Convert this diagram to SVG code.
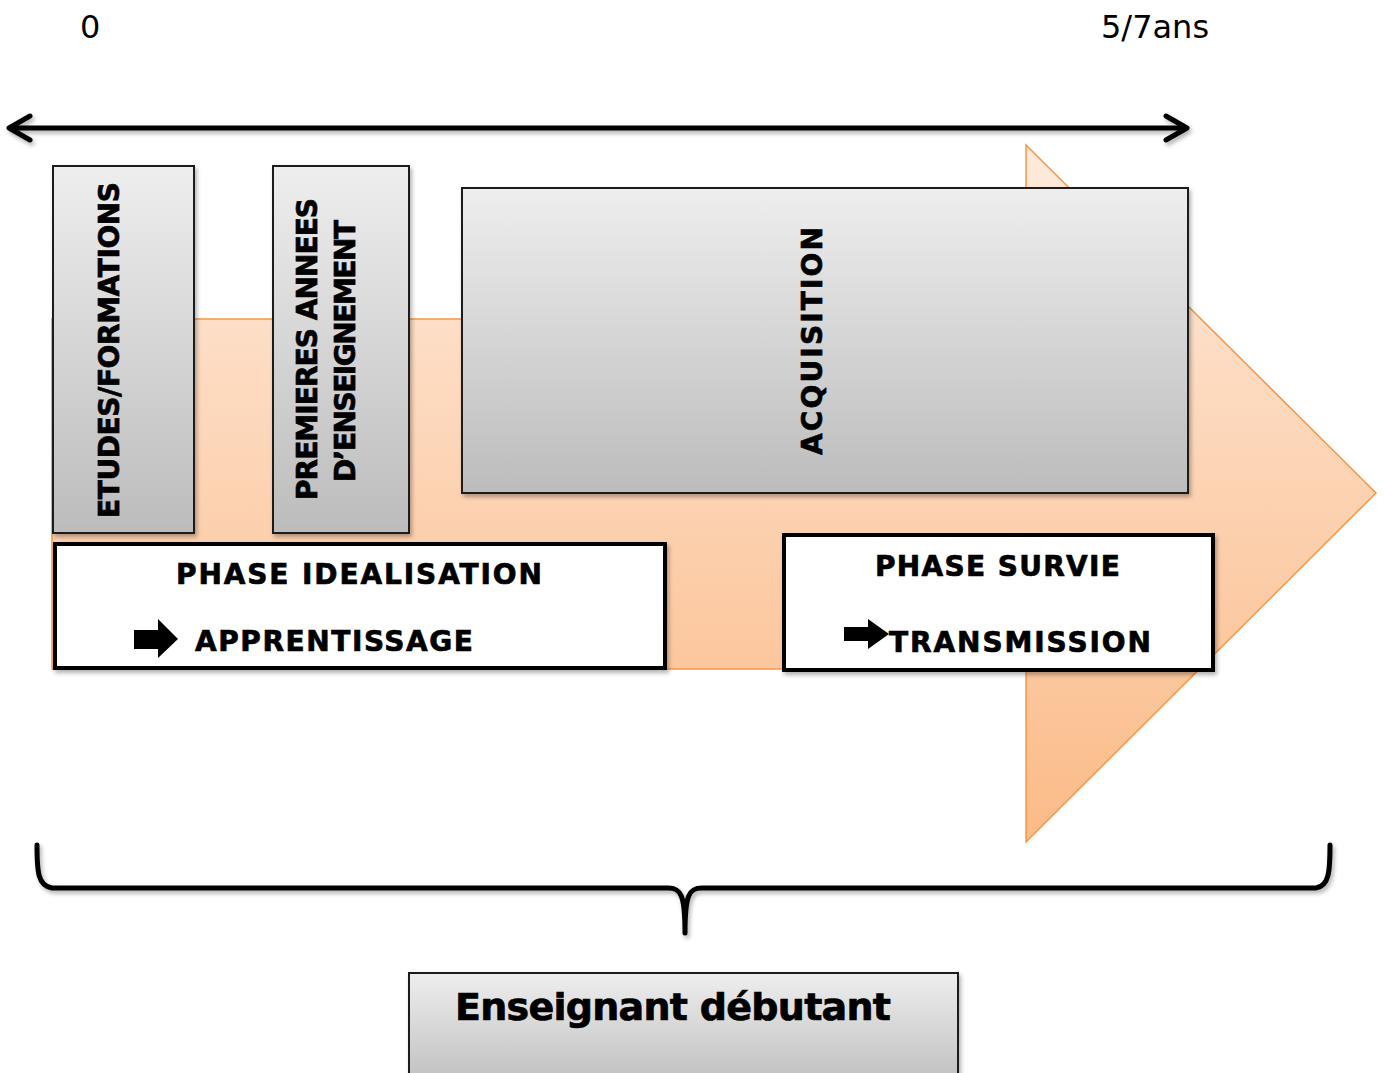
<svg xmlns="http://www.w3.org/2000/svg" width="1384" height="1073" viewBox="0 0 1384 1073">
<style>
.b{font-family:"DejaVu Sans","Verdana",sans-serif;font-weight:bold;fill:#000;stroke:#000;stroke-width:0.7}
.r{font-family:"DejaVu Sans","Verdana",sans-serif;fill:#000}
.gray{fill:url(#gg);stroke:#1a1a1a;stroke-width:2;filter:url(#sh)}
.wbox{fill:#fff;stroke:#000;stroke-width:4;filter:url(#sh)}
.ln{fill:none;stroke:#000;stroke-width:5;stroke-linecap:round;stroke-linejoin:round;filter:url(#sh)}
</style>
<defs>
<linearGradient id="og" gradientUnits="userSpaceOnUse" x1="0" y1="145" x2="0" y2="842">
<stop offset="0" stop-color="#feeadc"/>
<stop offset="1" stop-color="#fbbb88"/>
</linearGradient>
<linearGradient id="gg" x1="0" y1="0" x2="0" y2="1">
<stop offset="0" stop-color="#eeeeee"/>
<stop offset="1" stop-color="#bcbcbc"/>
</linearGradient>
<linearGradient id="gg2" gradientUnits="userSpaceOnUse" x1="0" y1="973" x2="0" y2="1073">
<stop offset="0" stop-color="#eeeeee"/>
<stop offset="1" stop-color="#c4c4c4"/>
</linearGradient>
<filter id="sh" filterUnits="userSpaceOnUse" x="0" y="0" width="1384" height="1073">
<feDropShadow dx="2" dy="3" stdDeviation="2" flood-color="#000" flood-opacity="0.3"/>
</filter>
</defs>
<rect width="1384" height="1073" fill="#fff"/>

<g id="big-arrow">
<polygon points="52,319 1026,319 1026,145 1376,493 1026,842 1026,669 52,669" fill="url(#og)" stroke="#f79646" stroke-width="1.5"/>
</g>

<g id="labels-top">
<text class="r" x="80" y="38" font-size="32">0</text>
<text class="r" x="1101" y="38" font-size="32">5/7ans</text>
</g>

<g id="connectors">
<path class="ln" d="M30,116 L9,128 L30,140 M10,128 L1186,128 M1166,116 L1187,128 L1166,140"/>
<path class="ln" d="M37,845 C37,872 38,886 52,888 L668,888 C681,888 685,895 685,933 C685,895 689,888 702,888 L1316,888 C1329,886 1330,872 1330,845"/>
</g>

<g id="etudes">
<rect class="gray" x="53" y="166" width="141" height="367"/>
<text class="b" font-size="28" text-anchor="middle" transform="translate(119,350) rotate(-90)" textLength="336" lengthAdjust="spacing">ETUDES/FORMATIONS</text>
</g>

<g id="premieres">
<rect class="gray" x="273" y="166" width="136" height="367"/>
<text class="b" font-size="28" text-anchor="middle" transform="translate(317,349) rotate(-90)" textLength="302" lengthAdjust="spacing">PREMIERES ANNEES</text>
<text class="b" font-size="28" text-anchor="middle" transform="translate(355,351) rotate(-90)" textLength="262" lengthAdjust="spacing">D’ENSEIGNEMENT</text>
</g>

<g id="acquisition">
<rect class="gray" x="462" y="188" width="726" height="305"/>
<text class="b" font-size="28" text-anchor="middle" transform="translate(822,341) rotate(-90)" textLength="228" lengthAdjust="spacing">ACQUISITION</text>
</g>

<g id="phase-idealisation">
<rect class="wbox" x="55" y="544" width="610" height="124"/>
<text class="b" font-size="28" x="176" y="584" textLength="366" lengthAdjust="spacing">PHASE IDEALISATION</text>
<polygon points="134,630 158,630 158,619 178,639 158,658 158,649 134,649" fill="#000"/>
<text class="b" font-size="28" x="195" y="651" textLength="278" lengthAdjust="spacing">APPRENTISSAGE</text>
</g>

<g id="phase-survie">
<rect class="wbox" x="784" y="535" width="429" height="135"/>
<text class="b" font-size="28" x="875" y="576" textLength="245" lengthAdjust="spacing">PHASE SURVIE</text>
<polygon points="844,627 868,627 868,619 889,634 868,649 868,641 844,641" fill="#000"/>
<text class="b" font-size="28" x="889" y="652" textLength="262" lengthAdjust="spacing">TRANSMISSION</text>
</g>

<g id="enseignant">
<rect x="409" y="973" width="549" height="110" fill="url(#gg2)" stroke="#1a1a1a" stroke-width="2" filter="url(#sh)"/>
<text class="b" font-size="38" x="455" y="1020" textLength="436" lengthAdjust="spacing">Enseignant débutant</text>
</g>
</svg>
